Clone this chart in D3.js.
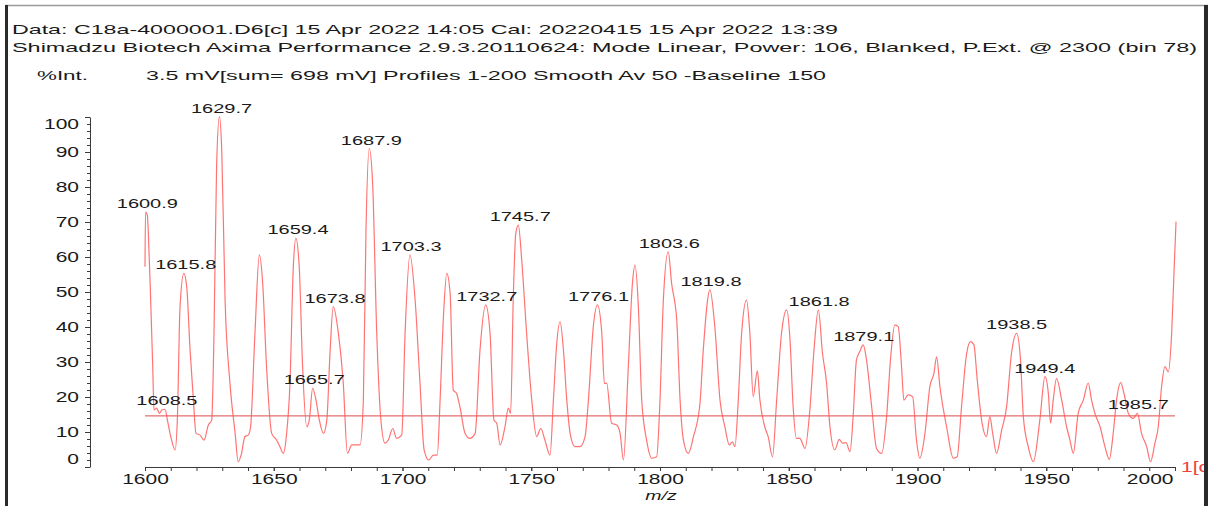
<!DOCTYPE html>
<html>
<head>
<meta charset="utf-8">
<script src="https://cdn.jsdelivr.net/npm/d3@7"></script>
<style>
body{margin:0;background:#fff;}
svg text{font-family:"Liberation Sans",Arial,sans-serif;fill:#1a1a1a;}
</style>
</head>
<body>
<svg id="chart" width="1208" height="506"></svg>
<script>
// spectrum trace (m/z, %Int)
var mzValues=[1600.0,1600.2,1600.9,1601.3,1602.2,1603.0,1603.5,1604.5,1605.6,1606.5,1607.8,1608.7,1610.0,1611.7,1612.6,1613.6,1615.1,1616.2,1617.5,1618.8,1619.8,1621.4,1622.9,1624.6,1625.9,1626.8,1627.8,1628.9,1629.8,1631.1,1633.0,1635.0,1636.2,1637.5,1638.8,1640.1,1641.0,1642.7,1644.4,1645.7,1647.2,1649.2,1651.1,1652.4,1653.7,1655.0,1656.3,1657.6,1658.6,1659.9,1661.2,1662.8,1663.8,1665.1,1666.4,1667.7,1669.3,1670.6,1671.9,1673.1,1675.1,1677.0,1678.6,1680.3,1683.5,1684.8,1685.8,1687.1,1688.4,1690.0,1691.5,1693.2,1694.5,1696.2,1697.7,1699.7,1701.0,1702.9,1704.9,1706.8,1708.4,1710.2,
1712.0,1713.5,1714.6,1715.9,1717.2,1718.5,1719.7,1721.0,1722.3,1724.3,1726.2,1728.2,1730.1,1732.3,1734.0,1735.5,1736.6,1737.9,1739.8,1741.1,1742.0,1743.0,1744.0,1745.0,1746.3,1748.2,1750.2,1752.1,1753.7,1755.3,1757.3,1758.6,1759.9,1761.2,1762.5,1763.8,1765.1,1767.0,1768.9,1770.9,1772.2,1774.1,1775.7,1777.4,1778.4,1779.3,1781.2,1783.2,1784.5,1785.8,1787.7,1789.3,1790.3,1791.6,1792.9,1794.8,1796.8,1798.7,1800.0,1801.3,1803.2,1804.5,1806.5,1807.8,1809.1,1811.0,1813.0,1815.5,1816.8,1819.4,1821.3,1823.3,
1825.2,1826.9,1828.1,1829.1,1830.4,1831.7,1833.6,1834.9,1836.2,1837.8,1838.8,1840.7,1842.0,1843.7,1845.3,1847.2,1849.2,1850.5,1851.7,1853.0,1854.3,1856.3,1858.2,1859.8,1861.5,1863.1,1864.7,1866.0,1867.9,1869.6,1870.9,1872.2,1873.8,1875.0,1876.3,1877.6,1878.9,1880.2,1882.2,1884.1,1886.1,1888.0,1889.6,1891.2,1892.5,1893.8,1894.7,1896.4,1898.1,1899.6,1900.9,1902.9,1904.8,1906.4,1907.4,1908.7,1911.3,1913.9,1915.4,1917.1,1919.1,1920.6,1921.9,1923.2,1924.9,1926.8,1928.1,1929.2,1930.7,1932.7,1934.6,1936.5,1938.5,1940.0,1941.1,1943.0,1945.0,1947.5,1949.5,1950.8,1951.7,1952.7,1954.0,1956.0,1957.9,1959.2,1960.5,1962.4,1964.4,1966.3,1967.6,1968.9,1970.9,1972.8,1974.5,1976.0,1977.3,1978.9,1980.2,1981.9,1983.8,1985.4,1987.0,1989.0,1990.5,1992.2,1993.5,1994.8,1996.1,1997.4,1998.7,1999.7,2000.4];
var intValues=[57.2,72.8,72.0,66.8,47.7,28.7,16.3,16.8,15.3,16.3,16.5,13.4,8.7,4.9,14.4,45.8,55.3,51.5,33.4,19.1,9.6,9.1,7.7,12.0,13.4,38.2,85.8,100.1,90.6,47.7,23.9,9.6,1.5,3.9,8.7,9.1,11.5,38.2,60.6,52.5,28.7,9.6,7.7,5.8,3.9,9.6,23.9,57.2,65.3,57.2,28.7,11.5,13.4,22.5,19.1,13.4,9.6,13.4,33.4,45.8,38.2,23.9,3.9,6.3,6.3,19.1,66.8,91.0,81.0,38.2,14.4,6.8,7.7,11.0,8.2,9.1,38.2,60.6,47.7,23.9,4.9,2.0,
3.4,3.4,19.1,43.0,55.3,49.6,22.0,21.0,17.2,9.6,8.2,9.6,33.4,46.3,38.2,13.4,12.5,6.3,11.5,16.8,15.3,47.7,66.8,69.1,59.1,38.2,19.1,8.7,11.0,7.7,3.4,19.1,35.3,41.5,33.4,19.1,9.6,5.8,5.8,8.7,19.1,40.1,46.3,38.2,23.9,23.9,12.5,12.0,9.6,2.0,28.7,52.5,57.7,45.8,19.1,7.7,2.5,2.9,19.1,47.7,61.5,52.5,42.0,19.1,7.7,3.9,8.7,18.0,33.4,50.6,40.0,19.1,
11.5,6.3,7.2,5.8,19.1,38.2,47.7,38.2,20.1,27.5,19.1,11.5,8.7,2.9,19.1,38.2,44.9,36.3,17.2,8.2,8.2,5.3,16.3,33.4,44.9,32.5,23.9,11.5,4.9,7.9,6.8,7.0,4.4,14.4,30.6,33.0,34.9,30.6,17.2,5.3,3.9,14.4,31.5,40.6,40.1,28.7,19.1,20.6,20.1,7.7,2.5,9.6,23.0,26.8,31.5,23.0,11.5,2.5,2.9,17.2,32.5,35.8,34.9,24.9,13.4,8.7,14.4,9.6,3.9,10.6,17.2,32.5,38.2,30.6,14.4,5.8,1.5,13.4,25.8,21.1,12.5,19.1,25.3,19.1,11.5,7.7,3.9,15.3,19.1,24.0,19.1,15.3,11.5,5.8,2.2,9.6,19.1,24.1,21.0,15.3,13.9,15.3,9.6,5.8,1.5,6.8,11.5,23.0,28.7,27.2,38.2,57.2,70.1];

// labelled peaks
var peakMz=[1600.9,1608.5,1615.8,1629.7,1659.4,1665.7,1673.8,1687.9,1703.3,1732.7,1745.7,1776.1,1803.6,1819.8,1861.8,1879.1,1938.5,1949.4,1985.7];
var peakInt=[72.8,16.5,55.3,100.1,65.3,22.5,45.8,91.0,60.6,46.3,69.1,46.3,61.5,50.6,44.9,34.9,38.2,25.8,15.3];

var baselineLevel=14.6;

var headerLines=["Data: C18a-4000001.D6[c] 15 Apr 2022 14:05 Cal: 20220415 15 Apr 2022 13:39",
	"Shimadzu Biotech Axima Performance 2.9.3.20110624: Mode Linear, Power: 106, Blanked, P.Ext. @ 2300 (bin 78)"];
var intLabel="%Int.";
var infoLabel="3.5 mV[sum= 698 mV]  Profiles 1-200 Smooth Av 50 -Baseline 150";

var stretch=1.5;

var svg=d3.select("#chart");

var x=d3.scaleLinear().domain([1600,2000]).range([145,1175]);
var y=d3.scaleLinear().domain([0,100]).range([467,117]);

// header
svg.append("text").attr("x",12).attr("y",34).style("font-size","13px")
	.attr("textLength",826).attr("lengthAdjust","spacingAndGlyphs").text(headerLines[0]);
svg.append("text").attr("x",12).attr("y",52).style("font-size","13px")
	.attr("textLength",1185).attr("lengthAdjust","spacingAndGlyphs").text(headerLines[1]);
svg.append("text").attr("x",37).attr("y",80).style("font-size","13px")
	.attr("textLength",51).attr("lengthAdjust","spacingAndGlyphs").text(intLabel);
svg.append("text").attr("x",146).attr("y",80).style("font-size","13px")
	.attr("textLength",680).attr("lengthAdjust","spacingAndGlyphs").text(infoLabel);

// y axis
var yMinor=svg.append("g").attr("transform","translate(90,0)")
	.call(d3.axisLeft(y).tickValues(d3.range(0,101,2)).tickSize(3).tickSizeOuter(0).tickFormat(""));
yMinor.select(".domain").remove();
var gy=svg.append("g").attr("transform","translate(90,0)")
	.call(d3.axisLeft(y).tickValues(d3.range(0,101,10)).tickSize(5).tickSizeOuter(0));
gy.selectAll(".tick text")
	.style("font-size","14px")
	.attr("x",-11/stretch)
	.attr("transform",function(d){
		if(d==0) return "translate(0,-8) scale("+stretch+",1)";
		if(d==100) return "translate(0,7) scale("+stretch+",1)";
		return "scale("+stretch+",1)";
	});

// x axis
var xMinor=svg.append("g").attr("transform","translate(0,467)")
	.call(d3.axisBottom(x).tickValues(d3.range(1600,2001,10)).tickSize(4).tickSizeOuter(0).tickFormat(""));
xMinor.select(".domain").remove();
var gx=svg.append("g").attr("transform","translate(0,467)")
	.call(d3.axisBottom(x).tickValues(d3.range(1600,2001,50)).tickSize(4).tickSizeOuter(0).tickFormat(d3.format("d")));
gx.selectAll(".tick text").style("font-size","14px")
	.attr("dy","0.68em")
	.attr("text-anchor",function(d){return d==2000?"end":"middle";})
	.attr("x",function(d){return d==2000?-2/stretch:0;})
	.attr("transform","scale("+stretch+",1)");

svg.selectAll(".domain, .tick line").attr("stroke","#3a3a3a");
svg.selectAll(".tick text").attr("fill","#1a1a1a");

svg.append("text").attr("transform","translate(661,500) scale("+stretch+",1)")
	.style("font-size","13px").style("font-style","italic").attr("text-anchor","middle").text("m/z");

// baseline
svg.append("line")
	.attr("x1",x(1600)).attr("x2",x(2000))
	.attr("y1",y(baselineLevel)).attr("y2",y(baselineLevel))
	.attr("stroke","#d94a4a").attr("stroke-width",1);

// trace
var points=mzValues.map(function(d,i){return [d,intValues[i]];});
var line=d3.line().x(function(d){return x(d[0]);}).y(function(d){return y(d[1]);}).curve(d3.curveMonotoneX);
svg.append("path").datum(points)
	.attr("d",line)
	.attr("fill","none")
	.attr("stroke","#ff5b5b")
	.attr("stroke-width",1.2)
	.attr("stroke-opacity",0.85);

// peak labels
svg.selectAll(".peakLabel").data(peakMz).enter().append("text")
	.attr("class","peakLabel")
	.attr("text-anchor","middle")
	.style("font-size","13.5px")
	.attr("transform",function(d,i){return "translate("+x(d)+","+(y(peakInt[i])-4)+") scale(1.48,1)";})
	.text(function(d){return d3.format(".1f")(d);});

// trace tag at the right edge (cut by the frame, as in the original)
svg.append("text").attr("transform","translate(1181,472) scale("+stretch+",1)")
	.style("font-size","14px").style("fill","#f04040").text("1[c]");

// frame
svg.append("line").attr("x1",5).attr("x2",1208).attr("y1",5.5).attr("y2",5.5).attr("stroke","#9a9a9a").attr("stroke-width",1.5);
svg.append("rect").attr("x",5).attr("y",5).attr("width",3).attr("height",501).attr("fill","#2a2a2a");
svg.append("rect").attr("x",1204).attr("y",5).attr("width",4).attr("height",501).attr("fill","#2a2a2a");
</script>
</body>
</html>
